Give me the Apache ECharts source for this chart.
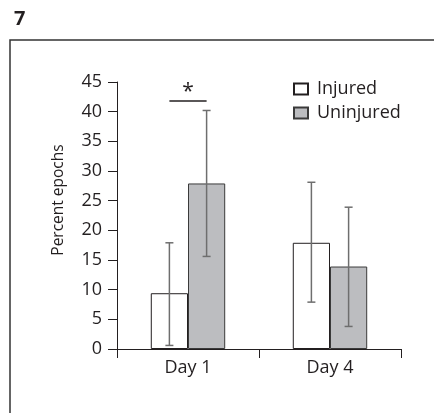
<!DOCTYPE html>
<html><head><meta charset="utf-8">
<script src="https://cdn.jsdelivr.net/npm/echarts@6/dist/echarts.min.js"></script>
<style>html,body{margin:0;padding:0;background:#fff}#c{width:434px;height:413px}</style>
</head><body><div id="c"></div>
<script>
const categories = ['Day 1', 'Day 4'];
const seriesNames = ['Injured', 'Uninjured'];
const injured = [9.4, 17.9];
const uninjured = [27.9, 13.9];
const injuredLow = [0.6, 7.9];
const injuredHigh = [17.9, 28.1];
const uninjuredLow = [15.6, 3.8];
const uninjuredHigh = [40.2, 23.9];
const sigLevel = 41.8;
const yTicks = [0, 5, 10, 15, 20, 25, 30, 35, 40, 45];

const FONT = 'Open Sans';
const TXT = '#231f20';
const BARW = 0.262;

const chart = echarts.init(document.getElementById('c'), null, {renderer: 'canvas'});

function errItem(offsetSign, lows, highs) {
  return function (params, api) {
    const i = api.value(0);
    const lo = api.coord([i, lows[i]]);
    const hi = api.coord([i, highs[i]]);
    const bw = api.size([1, 0])[0] * BARW;
    const x = lo[0] + offsetSign * bw / 2;
    const cap = 4;
    const st = {stroke: '#6e6e6e', lineWidth: 1.5};
    return {type: 'group', children: [
      {type: 'line', shape: {x1: x, y1: lo[1], x2: x, y2: hi[1]}, style: st},
      {type: 'line', shape: {x1: x - cap, y1: lo[1], x2: x + cap, y2: lo[1]}, style: st},
      {type: 'line', shape: {x1: x - cap, y1: hi[1], x2: x + cap, y2: hi[1]}, style: st}
    ]};
  };
}

chart.setOption({
  animation: false,
  title: {text: '7', left: 9, top: 4, textStyle: {fontFamily: FONT, fontWeight: 'bold', fontSize: 20, color: TXT}},
  grid: {left: 117, right: 33, top: 82, bottom: 64},
  legend: {
    orient: 'vertical', left: 293, top: 79, padding: 0, itemWidth: 14, itemHeight: 11, itemGap: 4,
    icon: 'rect', data: seriesNames,
    textStyle: {fontFamily: FONT, fontSize: 18, lineHeight: 20, color: TXT, padding: [0, 0, 0, 4]}
  },
  xAxis: {
    type: 'category', data: categories,
    axisLine: {lineStyle: {color: TXT, width: 1}},
    axisTick: {show: true, length: 9, lineStyle: {color: TXT}},
    axisLabel: {fontFamily: FONT, fontSize: 18, color: TXT, margin: 10}
  },
  yAxis: {
    type: 'value', min: 0, max: 45, interval: 5,
    splitLine: {show: false},
    axisLine: {show: true, lineStyle: {color: TXT, width: 1}},
    axisTick: {show: true, length: 9, lineStyle: {color: TXT}},
    axisLabel: {fontFamily: FONT, fontSize: 18, color: TXT, margin: 15,
      formatter: v => yTicks.includes(v) ? String(v) : ''}
  },
  series: [
    {name: seriesNames[0], type: 'bar', data: injured, barWidth: (BARW * 100) + '%', barGap: '0%',
      itemStyle: {color: '#ffffff', borderColor: '#231f20', borderWidth: 1}},
    {name: seriesNames[1], type: 'bar', data: uninjured, barWidth: (BARW * 100) + '%', barGap: '0%',
      itemStyle: {color: '#bcbdc0', borderColor: '#3a3a3a', borderWidth: 1}},
    {type: 'custom', data: [[0], [1]], renderItem: errItem(-1, injuredLow, injuredHigh), z: 5},
    {type: 'custom', data: [[0], [1]], renderItem: errItem(1, uninjuredLow, uninjuredHigh), z: 5},
    {type: 'custom', data: [[0, sigLevel]], z: 5, renderItem: function (params, api) {
      const p = api.coord([api.value(0), api.value(1)]);
      const bw = api.size([1, 0])[0] * BARW;
      return {type: 'group', children: [
        {type: 'line', shape: {x1: p[0] - bw / 2, y1: p[1], x2: p[0] + bw / 2, y2: p[1]}, style: {stroke: TXT, lineWidth: 1.3}},
        {type: 'text', x: p[0], y: p[1] + 1.5, style: {text: '*', fontFamily: FONT, fontSize: 21, fill: TXT, align: 'center', verticalAlign: 'bottom'}}
      ]};
    }}
  ],
  graphic: [
    {type: 'rect', shape: {x: 10, y: 40, width: 440, height: 400}, style: {fill: 'none', stroke: '#333', lineWidth: 1.5}, silent: true},
    {type: 'text', x: 59, y: 200, rotation: Math.PI / 2,
      style: {text: 'Percent epochs', fontFamily: FONT, fontSize: 15.5, fill: TXT, align: 'center', verticalAlign: 'middle'}}
  ]
});
</script>
</body></html>
